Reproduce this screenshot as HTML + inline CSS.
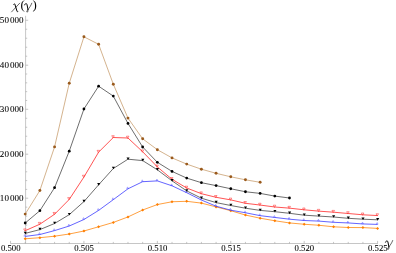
<!DOCTYPE html>
<html><head><meta charset="utf-8"><title>chart</title>
<style>
html,body{margin:0;padding:0;background:#fff;}
body{width:396px;height:253px;overflow:hidden;font-family:"Liberation Serif",serif;}
svg{display:block;}
</style></head><body>
<div style="will-change:transform;width:396px;height:253px"><svg width="396" height="253" viewBox="0 0 396 253">
<g stroke="#a0a0a0" stroke-width="0.6" fill="none">
<line x1="10.5" y1="243.5" x2="377.9" y2="243.5"/>
<line x1="25.6" y1="15.8" x2="25.6" y2="243.5"/>
<line x1="10.52" y1="243.5" x2="10.52" y2="240.90"/>
<line x1="25.20" y1="243.5" x2="25.20" y2="241.90"/>
<line x1="39.88" y1="243.5" x2="39.88" y2="241.90"/>
<line x1="54.57" y1="243.5" x2="54.57" y2="241.90"/>
<line x1="69.25" y1="243.5" x2="69.25" y2="241.90"/>
<line x1="83.93" y1="243.5" x2="83.93" y2="240.90"/>
<line x1="98.61" y1="243.5" x2="98.61" y2="241.90"/>
<line x1="113.30" y1="243.5" x2="113.30" y2="241.90"/>
<line x1="127.98" y1="243.5" x2="127.98" y2="241.90"/>
<line x1="142.66" y1="243.5" x2="142.66" y2="241.90"/>
<line x1="157.35" y1="243.5" x2="157.35" y2="240.90"/>
<line x1="172.03" y1="243.5" x2="172.03" y2="241.90"/>
<line x1="186.71" y1="243.5" x2="186.71" y2="241.90"/>
<line x1="201.40" y1="243.5" x2="201.40" y2="241.90"/>
<line x1="216.08" y1="243.5" x2="216.08" y2="241.90"/>
<line x1="230.76" y1="243.5" x2="230.76" y2="240.90"/>
<line x1="245.44" y1="243.5" x2="245.44" y2="241.90"/>
<line x1="260.13" y1="243.5" x2="260.13" y2="241.90"/>
<line x1="274.81" y1="243.5" x2="274.81" y2="241.90"/>
<line x1="289.49" y1="243.5" x2="289.49" y2="241.90"/>
<line x1="304.18" y1="243.5" x2="304.18" y2="240.90"/>
<line x1="318.86" y1="243.5" x2="318.86" y2="241.90"/>
<line x1="333.54" y1="243.5" x2="333.54" y2="241.90"/>
<line x1="348.23" y1="243.5" x2="348.23" y2="241.90"/>
<line x1="362.91" y1="243.5" x2="362.91" y2="241.90"/>
<line x1="377.59" y1="243.5" x2="377.59" y2="240.90"/>
<line x1="25.6" y1="234.04" x2="27.20" y2="234.04"/>
<line x1="25.6" y1="225.08" x2="27.20" y2="225.08"/>
<line x1="25.6" y1="216.12" x2="27.20" y2="216.12"/>
<line x1="25.6" y1="207.16" x2="27.20" y2="207.16"/>
<line x1="25.6" y1="198.20" x2="28.20" y2="198.20"/>
<line x1="25.6" y1="189.40" x2="27.20" y2="189.40"/>
<line x1="25.6" y1="180.60" x2="27.20" y2="180.60"/>
<line x1="25.6" y1="171.80" x2="27.20" y2="171.80"/>
<line x1="25.6" y1="163.00" x2="27.20" y2="163.00"/>
<line x1="25.6" y1="154.20" x2="28.20" y2="154.20"/>
<line x1="25.6" y1="145.22" x2="27.20" y2="145.22"/>
<line x1="25.6" y1="136.24" x2="27.20" y2="136.24"/>
<line x1="25.6" y1="127.26" x2="27.20" y2="127.26"/>
<line x1="25.6" y1="118.28" x2="27.20" y2="118.28"/>
<line x1="25.6" y1="109.30" x2="28.20" y2="109.30"/>
<line x1="25.6" y1="100.48" x2="27.20" y2="100.48"/>
<line x1="25.6" y1="91.66" x2="27.20" y2="91.66"/>
<line x1="25.6" y1="82.84" x2="27.20" y2="82.84"/>
<line x1="25.6" y1="74.02" x2="27.20" y2="74.02"/>
<line x1="25.6" y1="65.20" x2="28.20" y2="65.20"/>
<line x1="25.6" y1="56.21" x2="27.20" y2="56.21"/>
<line x1="25.6" y1="47.22" x2="27.20" y2="47.22"/>
<line x1="25.6" y1="38.23" x2="27.20" y2="38.23"/>
<line x1="25.6" y1="29.24" x2="27.20" y2="29.24"/>
<line x1="25.6" y1="20.25" x2="28.20" y2="20.25"/>
</g>
<polyline points="25.20,238.80 39.88,237.70 54.57,236.20 69.25,234.00 83.93,231.00 98.61,226.75 113.30,222.45 127.98,216.95 142.66,210.00 157.35,204.55 172.03,201.75 186.71,201.30 201.40,203.10 216.08,206.90 230.76,210.70 245.44,215.05 260.13,218.20 274.81,220.75 289.49,222.95 304.18,224.25 318.86,225.25 333.54,226.80 348.23,227.50 362.91,227.60 377.59,228.40" fill="none" stroke="#ff8000" stroke-width="0.75" stroke-linejoin="round"/>
<path d="M23.70,238.80 L25.20,237.30 L26.70,238.80 L25.20,240.30 Z" fill="#ff7f00"/><path d="M38.38,237.70 L39.88,236.20 L41.38,237.70 L39.88,239.20 Z" fill="#ff7f00"/><path d="M53.07,236.20 L54.57,234.70 L56.07,236.20 L54.57,237.70 Z" fill="#ff7f00"/><path d="M67.75,234.00 L69.25,232.50 L70.75,234.00 L69.25,235.50 Z" fill="#ff7f00"/><path d="M82.43,231.00 L83.93,229.50 L85.43,231.00 L83.93,232.50 Z" fill="#ff7f00"/><path d="M97.11,226.75 L98.61,225.25 L100.11,226.75 L98.61,228.25 Z" fill="#ff7f00"/><path d="M111.80,222.45 L113.30,220.95 L114.80,222.45 L113.30,223.95 Z" fill="#ff7f00"/><path d="M126.48,216.95 L127.98,215.45 L129.48,216.95 L127.98,218.45 Z" fill="#ff7f00"/><path d="M141.16,210.00 L142.66,208.50 L144.16,210.00 L142.66,211.50 Z" fill="#ff7f00"/><path d="M155.85,204.55 L157.35,203.05 L158.85,204.55 L157.35,206.05 Z" fill="#ff7f00"/><path d="M170.53,201.75 L172.03,200.25 L173.53,201.75 L172.03,203.25 Z" fill="#ff7f00"/><path d="M185.21,201.30 L186.71,199.80 L188.21,201.30 L186.71,202.80 Z" fill="#ff7f00"/><path d="M199.90,203.10 L201.40,201.60 L202.90,203.10 L201.40,204.60 Z" fill="#ff7f00"/><path d="M214.58,206.90 L216.08,205.40 L217.58,206.90 L216.08,208.40 Z" fill="#ff7f00"/><path d="M229.26,210.70 L230.76,209.20 L232.26,210.70 L230.76,212.20 Z" fill="#ff7f00"/><path d="M243.94,215.05 L245.44,213.55 L246.94,215.05 L245.44,216.55 Z" fill="#ff7f00"/><path d="M258.63,218.20 L260.13,216.70 L261.63,218.20 L260.13,219.70 Z" fill="#ff7f00"/><path d="M273.31,220.75 L274.81,219.25 L276.31,220.75 L274.81,222.25 Z" fill="#ff7f00"/><path d="M287.99,222.95 L289.49,221.45 L290.99,222.95 L289.49,224.45 Z" fill="#ff7f00"/><path d="M302.68,224.25 L304.18,222.75 L305.68,224.25 L304.18,225.75 Z" fill="#ff7f00"/><path d="M317.36,225.25 L318.86,223.75 L320.36,225.25 L318.86,226.75 Z" fill="#ff7f00"/><path d="M332.04,226.80 L333.54,225.30 L335.04,226.80 L333.54,228.30 Z" fill="#ff7f00"/><path d="M346.73,227.50 L348.23,226.00 L349.73,227.50 L348.23,229.00 Z" fill="#ff7f00"/><path d="M361.41,227.60 L362.91,226.10 L364.41,227.60 L362.91,229.10 Z" fill="#ff7f00"/><path d="M376.09,228.40 L377.59,226.90 L379.09,228.40 L377.59,229.90 Z" fill="#ff7f00"/>
<path d="M23.90,236.20 L25.70,236.20 L24.80,234.50 Z" fill="#fff" stroke="#3030ff" stroke-width="0.35"/><path d="M38.58,234.30 L40.38,234.30 L39.48,232.60 Z" fill="#fff" stroke="#3030ff" stroke-width="0.35"/><path d="M53.27,230.40 L55.07,230.40 L54.17,228.70 Z" fill="#fff" stroke="#3030ff" stroke-width="0.35"/><path d="M67.95,225.80 L69.75,225.80 L68.85,224.10 Z" fill="#fff" stroke="#3030ff" stroke-width="0.35"/><path d="M82.63,219.30 L84.43,219.30 L83.53,217.60 Z" fill="#fff" stroke="#3030ff" stroke-width="0.35"/><path d="M97.31,210.20 L99.11,210.20 L98.21,208.50 Z" fill="#fff" stroke="#3030ff" stroke-width="0.35"/><path d="M112.00,199.45 L113.80,199.45 L112.90,197.75 Z" fill="#fff" stroke="#3030ff" stroke-width="0.35"/><path d="M126.68,188.60 L128.48,188.60 L127.58,186.90 Z" fill="#fff" stroke="#3030ff" stroke-width="0.35"/><path d="M141.36,181.50 L143.16,181.50 L142.26,179.80 Z" fill="#fff" stroke="#3030ff" stroke-width="0.35"/><path d="M156.05,180.70 L157.85,180.70 L156.95,179.00 Z" fill="#fff" stroke="#3030ff" stroke-width="0.35"/><path d="M170.73,185.60 L172.53,185.60 L171.63,183.90 Z" fill="#fff" stroke="#3030ff" stroke-width="0.35"/><path d="M185.41,192.50 L187.21,192.50 L186.31,190.80 Z" fill="#fff" stroke="#3030ff" stroke-width="0.35"/><path d="M200.10,199.80 L201.90,199.80 L201.00,198.10 Z" fill="#fff" stroke="#3030ff" stroke-width="0.35"/><path d="M214.78,206.00 L216.58,206.00 L215.68,204.30 Z" fill="#fff" stroke="#3030ff" stroke-width="0.35"/><path d="M229.46,210.00 L231.26,210.00 L230.36,208.30 Z" fill="#fff" stroke="#3030ff" stroke-width="0.35"/><path d="M244.14,212.55 L245.94,212.55 L245.04,210.85 Z" fill="#fff" stroke="#3030ff" stroke-width="0.35"/><path d="M258.83,215.45 L260.63,215.45 L259.73,213.75 Z" fill="#fff" stroke="#3030ff" stroke-width="0.35"/><path d="M273.51,217.25 L275.31,217.25 L274.41,215.55 Z" fill="#fff" stroke="#3030ff" stroke-width="0.35"/><path d="M288.19,219.00 L289.99,219.00 L289.09,217.30 Z" fill="#fff" stroke="#3030ff" stroke-width="0.35"/><path d="M302.88,220.30 L304.68,220.30 L303.78,218.60 Z" fill="#fff" stroke="#3030ff" stroke-width="0.35"/><path d="M317.56,220.90 L319.36,220.90 L318.46,219.20 Z" fill="#fff" stroke="#3030ff" stroke-width="0.35"/><path d="M332.24,222.10 L334.04,222.10 L333.14,220.40 Z" fill="#fff" stroke="#3030ff" stroke-width="0.35"/><path d="M346.93,222.75 L348.73,222.75 L347.83,221.05 Z" fill="#fff" stroke="#3030ff" stroke-width="0.35"/><path d="M361.61,223.75 L363.41,223.75 L362.51,222.05 Z" fill="#fff" stroke="#3030ff" stroke-width="0.35"/><path d="M376.29,224.20 L378.09,224.20 L377.19,222.50 Z" fill="#fff" stroke="#3030ff" stroke-width="0.35"/>
<polyline points="25.20,236.40 39.88,234.50 54.57,230.60 69.25,226.00 83.93,219.50 98.61,210.40 113.30,199.65 127.98,188.80 142.66,181.70 157.35,180.90 172.03,185.80 186.71,192.70 201.40,200.00 216.08,206.20 230.76,210.20 245.44,212.75 260.13,215.65 274.81,217.45 289.49,219.20 304.18,220.50 318.86,221.10 333.54,222.30 348.23,222.95 362.91,223.95 377.59,224.40" fill="none" stroke="#3434ff" stroke-width="0.76" stroke-linejoin="round"/>
<path d="M23.65,228.90 L26.15,228.90 L24.90,231.20 Z" fill="#fff" stroke="#ff2020" stroke-width="0.5"/><path d="M38.33,222.40 L40.83,222.40 L39.58,224.70 Z" fill="#fff" stroke="#ff2020" stroke-width="0.5"/><path d="M53.02,212.45 L55.52,212.45 L54.27,214.75 Z" fill="#fff" stroke="#ff2020" stroke-width="0.5"/><path d="M67.70,197.60 L70.20,197.60 L68.95,199.90 Z" fill="#fff" stroke="#ff2020" stroke-width="0.5"/><path d="M82.38,175.25 L84.88,175.25 L83.63,177.55 Z" fill="#fff" stroke="#ff2020" stroke-width="0.5"/><path d="M97.06,150.35 L99.56,150.35 L98.31,152.65 Z" fill="#fff" stroke="#ff2020" stroke-width="0.5"/><path d="M111.75,135.70 L114.25,135.70 L113.00,138.00 Z" fill="#fff" stroke="#ff2020" stroke-width="0.5"/><path d="M126.43,136.20 L128.93,136.20 L127.68,138.50 Z" fill="#fff" stroke="#ff2020" stroke-width="0.5"/><path d="M141.11,149.95 L143.61,149.95 L142.36,152.25 Z" fill="#fff" stroke="#ff2020" stroke-width="0.5"/><path d="M155.80,165.10 L158.30,165.10 L157.05,167.40 Z" fill="#fff" stroke="#ff2020" stroke-width="0.5"/><path d="M170.48,177.50 L172.98,177.50 L171.73,179.80 Z" fill="#fff" stroke="#ff2020" stroke-width="0.5"/><path d="M185.16,186.20 L187.66,186.20 L186.41,188.50 Z" fill="#fff" stroke="#ff2020" stroke-width="0.5"/><path d="M199.85,191.90 L202.35,191.90 L201.10,194.20 Z" fill="#fff" stroke="#ff2020" stroke-width="0.5"/><path d="M214.53,195.50 L217.03,195.50 L215.78,197.80 Z" fill="#fff" stroke="#ff2020" stroke-width="0.5"/><path d="M229.21,198.10 L231.71,198.10 L230.46,200.40 Z" fill="#fff" stroke="#ff2020" stroke-width="0.5"/><path d="M243.89,201.50 L246.39,201.50 L245.14,203.80 Z" fill="#fff" stroke="#ff2020" stroke-width="0.5"/><path d="M258.58,203.25 L261.08,203.25 L259.83,205.55 Z" fill="#fff" stroke="#ff2020" stroke-width="0.5"/><path d="M273.26,205.20 L275.76,205.20 L274.51,207.50 Z" fill="#fff" stroke="#ff2020" stroke-width="0.5"/><path d="M287.94,206.35 L290.44,206.35 L289.19,208.65 Z" fill="#fff" stroke="#ff2020" stroke-width="0.5"/><path d="M302.63,208.00 L305.13,208.00 L303.88,210.30 Z" fill="#fff" stroke="#ff2020" stroke-width="0.5"/><path d="M317.31,209.35 L319.81,209.35 L318.56,211.65 Z" fill="#fff" stroke="#ff2020" stroke-width="0.5"/><path d="M331.99,210.40 L334.49,210.40 L333.24,212.70 Z" fill="#fff" stroke="#ff2020" stroke-width="0.5"/><path d="M346.68,211.70 L349.18,211.70 L347.93,214.00 Z" fill="#fff" stroke="#ff2020" stroke-width="0.5"/><path d="M361.36,213.00 L363.86,213.00 L362.61,215.30 Z" fill="#fff" stroke="#ff2020" stroke-width="0.5"/><path d="M376.04,213.75 L378.54,213.75 L377.29,216.05 Z" fill="#fff" stroke="#ff2020" stroke-width="0.5"/>
<polyline points="25.20,230.70 39.88,224.20 54.57,214.25 69.25,199.40 83.93,177.05 98.61,152.15 113.30,137.50 127.98,138.00 142.66,151.75 157.35,166.90 172.03,179.30 186.71,188.00 201.40,193.70 216.08,197.30 230.76,199.90 245.44,203.30 260.13,205.05 274.81,207.00 289.49,208.15 304.18,209.80 318.86,211.15 333.54,212.20 348.23,213.50 362.91,214.80 377.59,215.55" fill="none" stroke="#ff2828" stroke-width="0.8" stroke-linejoin="round"/>
<polyline points="25.20,233.40 39.88,229.60 54.57,223.50 69.25,214.65 83.93,201.60 98.61,184.80 113.30,168.50 127.98,159.20 142.66,160.60 157.35,169.80 172.03,180.80 186.71,190.90 201.40,198.20 216.08,202.60 230.76,205.50 245.44,208.20 260.13,210.40 274.81,211.70 289.49,213.30 304.18,215.20 318.86,216.10 333.54,217.00 348.23,218.30 362.91,219.20 377.59,219.80" fill="none" stroke="#1a1a1a" stroke-width="0.64" stroke-linejoin="round"/>
<path d="M23.75,231.65 L26.85,231.65 L25.30,234.25 Z" fill="#000"/><path d="M38.43,227.85 L41.53,227.85 L39.98,230.45 Z" fill="#000"/><path d="M53.12,221.75 L56.22,221.75 L54.67,224.35 Z" fill="#000"/><path d="M67.80,212.90 L70.90,212.90 L69.35,215.50 Z" fill="#000"/><path d="M82.48,199.85 L85.58,199.85 L84.03,202.45 Z" fill="#000"/><path d="M97.16,183.05 L100.26,183.05 L98.71,185.65 Z" fill="#000"/><path d="M111.85,166.75 L114.95,166.75 L113.40,169.35 Z" fill="#000"/><path d="M126.53,157.45 L129.63,157.45 L128.08,160.05 Z" fill="#000"/><path d="M141.21,158.85 L144.31,158.85 L142.76,161.45 Z" fill="#000"/><path d="M155.90,168.05 L159.00,168.05 L157.45,170.65 Z" fill="#000"/><path d="M170.58,179.05 L173.68,179.05 L172.13,181.65 Z" fill="#000"/><path d="M185.26,189.15 L188.36,189.15 L186.81,191.75 Z" fill="#000"/><path d="M199.95,196.45 L203.05,196.45 L201.50,199.05 Z" fill="#000"/><path d="M214.63,200.85 L217.73,200.85 L216.18,203.45 Z" fill="#000"/><path d="M229.31,203.75 L232.41,203.75 L230.86,206.35 Z" fill="#000"/><path d="M243.99,206.45 L247.09,206.45 L245.54,209.05 Z" fill="#000"/><path d="M258.68,208.65 L261.78,208.65 L260.23,211.25 Z" fill="#000"/><path d="M273.36,209.95 L276.46,209.95 L274.91,212.55 Z" fill="#000"/><path d="M288.04,211.55 L291.14,211.55 L289.59,214.15 Z" fill="#000"/><path d="M302.73,213.45 L305.83,213.45 L304.28,216.05 Z" fill="#000"/><path d="M317.41,214.35 L320.51,214.35 L318.96,216.95 Z" fill="#000"/><path d="M332.09,215.25 L335.19,215.25 L333.64,217.85 Z" fill="#000"/><path d="M346.78,216.55 L349.88,216.55 L348.33,219.15 Z" fill="#000"/><path d="M361.46,217.45 L364.56,217.45 L363.01,220.05 Z" fill="#000"/><path d="M376.14,218.05 L379.24,218.05 L377.69,220.65 Z" fill="#000"/>
<polyline points="25.20,223.00 39.88,210.70 54.57,187.70 69.25,151.15 83.93,109.00 98.61,86.20 113.30,96.10 127.98,123.40 142.66,147.00 157.35,162.30 172.03,171.40 186.71,178.10 201.40,182.70 216.08,185.60 230.76,188.75 245.44,191.75 260.13,193.40 274.81,196.10 289.49,198.00" fill="none" stroke="#1a1a1a" stroke-width="0.64" stroke-linejoin="round"/>
<circle cx="25.20" cy="223.00" r="1.38" fill="#000"/><circle cx="39.88" cy="210.70" r="1.38" fill="#000"/><circle cx="54.57" cy="187.70" r="1.38" fill="#000"/><circle cx="69.25" cy="151.15" r="1.38" fill="#000"/><circle cx="83.93" cy="109.00" r="1.38" fill="#000"/><circle cx="98.61" cy="86.20" r="1.38" fill="#000"/><circle cx="113.30" cy="96.10" r="1.38" fill="#000"/><circle cx="127.98" cy="123.40" r="1.38" fill="#000"/><circle cx="142.66" cy="147.00" r="1.38" fill="#000"/><circle cx="157.35" cy="162.30" r="1.38" fill="#000"/><circle cx="172.03" cy="171.40" r="1.38" fill="#000"/><circle cx="186.71" cy="178.10" r="1.38" fill="#000"/><circle cx="201.40" cy="182.70" r="1.38" fill="#000"/><circle cx="216.08" cy="185.60" r="1.38" fill="#000"/><circle cx="230.76" cy="188.75" r="1.38" fill="#000"/><circle cx="245.44" cy="191.75" r="1.38" fill="#000"/><circle cx="260.13" cy="193.40" r="1.38" fill="#000"/><circle cx="274.81" cy="196.10" r="1.38" fill="#000"/><circle cx="289.49" cy="198.00" r="1.38" fill="#000"/>
<polyline points="25.20,214.10 39.88,190.50 54.57,146.90 69.25,83.20 83.93,36.80 98.61,44.30 113.30,84.20 127.98,118.10 142.66,138.80 157.35,149.70 172.03,157.90 186.71,164.10 201.40,169.20 216.08,173.30 230.76,176.80 245.44,179.80 260.13,182.30" fill="none" stroke="#b98448" stroke-width="0.62" stroke-linejoin="round"/>
<circle cx="25.20" cy="214.10" r="1.45" fill="#9a5a1c"/><circle cx="39.88" cy="190.50" r="1.45" fill="#9a5a1c"/><circle cx="54.57" cy="146.90" r="1.45" fill="#9a5a1c"/><circle cx="69.25" cy="83.20" r="1.45" fill="#9a5a1c"/><circle cx="83.93" cy="36.80" r="1.45" fill="#9a5a1c"/><circle cx="98.61" cy="44.30" r="1.45" fill="#9a5a1c"/><circle cx="113.30" cy="84.20" r="1.45" fill="#9a5a1c"/><circle cx="127.98" cy="118.10" r="1.45" fill="#9a5a1c"/><circle cx="142.66" cy="138.80" r="1.45" fill="#9a5a1c"/><circle cx="157.35" cy="149.70" r="1.45" fill="#9a5a1c"/><circle cx="172.03" cy="157.90" r="1.45" fill="#9a5a1c"/><circle cx="186.71" cy="164.10" r="1.45" fill="#9a5a1c"/><circle cx="201.40" cy="169.20" r="1.45" fill="#9a5a1c"/><circle cx="216.08" cy="173.30" r="1.45" fill="#9a5a1c"/><circle cx="230.76" cy="176.80" r="1.45" fill="#9a5a1c"/><circle cx="245.44" cy="179.80" r="1.45" fill="#9a5a1c"/><circle cx="260.13" cy="182.30" r="1.45" fill="#9a5a1c"/>
<g font-family="'Liberation Serif', serif" font-size="8.9" fill="#000" stroke="#000" stroke-width="0.07"><text transform="translate(10.72,251.30) scale(0.98,1)" text-anchor="middle">0.500</text><text transform="translate(84.13,251.30) scale(0.98,1)" text-anchor="middle">0.505</text><text transform="translate(157.55,251.30) scale(0.98,1)" text-anchor="middle">0.510</text><text transform="translate(230.96,251.30) scale(0.98,1)" text-anchor="middle">0.515</text><text transform="translate(304.38,251.30) scale(0.98,1)" text-anchor="middle">0.520</text><text transform="translate(377.79,251.30) scale(0.98,1)" text-anchor="middle">0.525</text><text transform="translate(23.50,201.10) scale(1.02,1)" text-anchor="end">10<tspan dx="1.0">000</tspan></text><text transform="translate(23.50,157.10) scale(1.02,1)" text-anchor="end">20<tspan dx="1.0">000</tspan></text><text transform="translate(23.50,112.20) scale(1.02,1)" text-anchor="end">30<tspan dx="1.0">000</tspan></text><text transform="translate(23.50,68.10) scale(1.02,1)" text-anchor="end">40<tspan dx="1.0">000</tspan></text><text transform="translate(23.50,23.15) scale(1.02,1)" text-anchor="end">50<tspan dx="1.0">000</tspan></text></g>
<g transform="translate(0,-0.3)" fill="none" stroke="#000" stroke-linecap="round" stroke-linejoin="round"><path d="M11.6,12.2 L19.7,3.5" stroke-width="0.6"/><path d="M13.7,4.7 C14.0,4.0 14.6,3.9 14.9,4.6 L17.0,11.5 C17.2,12.1 17.7,12.2 18.0,11.8" stroke-width="1.0"/></g>
<g transform="translate(0,-0.3)" fill="none" stroke="#000" stroke-linecap="round" stroke-linejoin="round"><path d="M24.6,5.2 C25.1,3.7 26.6,3.2 27.0,4.9 L28.0,9.8" stroke-width="1.0"/><path d="M31.8,3.5 C31.0,6 29,8.5 28.0,9.8 C27,11.1 26.3,12.4 27.1,12.5 C27.9,12.5 28.2,11 28.0,9.8" stroke-width="0.6"/></g>
<g transform="translate(360.9,237.0)" fill="none" stroke="#000" stroke-linecap="round" stroke-linejoin="round"><path d="M24.6,5.2 C25.1,3.7 26.6,3.2 27.0,4.9 L28.0,9.8" stroke-width="1.0"/><path d="M31.8,3.5 C31.0,6 29,8.5 28.0,9.8 C27,11.1 26.3,12.4 27.1,12.5 C27.9,12.5 28.2,11 28.0,9.8" stroke-width="0.6"/></g>
<g font-family="'Liberation Serif', serif" font-size="12.9" fill="#000"><text x="20.5" y="9.4">(</text><text x="32.6" y="9.4">)</text></g>
</svg></div>
</body></html>
